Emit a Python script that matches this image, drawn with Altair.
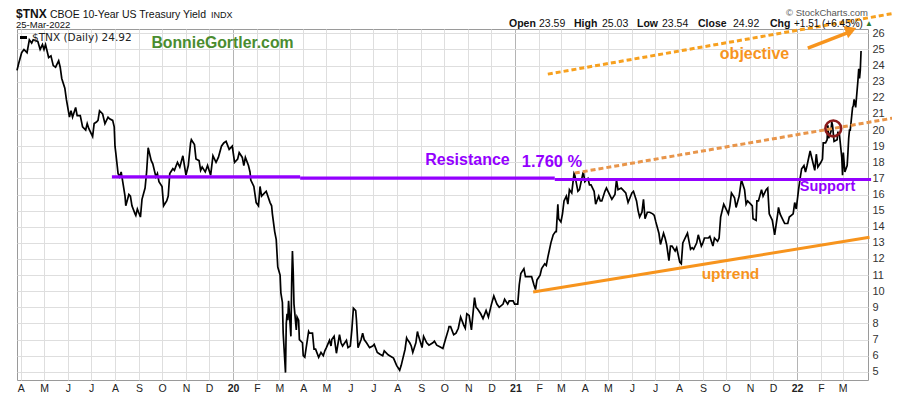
import altair as alt
import pandas as pd

# ---------------- data ----------------
dates_2019 = ["2019-03-27","2019-03-29","2019-04-02","2019-04-05","2019-04-09","2019-04-12","2019-04-15","2019-04-17",
              "2019-04-23","2019-04-26","2019-04-29","2019-05-01","2019-05-03","2019-05-07","2019-05-10","2019-05-13",
              "2019-05-16","2019-05-20","2019-05-22","2019-05-24","2019-05-28","2019-05-30","2019-06-03","2019-06-05",
              "2019-06-07","2019-06-11","2019-06-13","2019-06-17","2019-06-20","2019-06-24","2019-06-26","2019-06-28",
              "2019-07-02","2019-07-03","2019-07-05","2019-07-08","2019-07-10","2019-07-12","2019-07-16","2019-07-19",
              "2019-07-23","2019-07-25","2019-07-29","2019-07-31","2019-08-01","2019-08-02","2019-08-05","2019-08-07",
              "2019-08-09","2019-08-12","2019-08-14","2019-08-15","2019-08-19","2019-08-21","2019-08-23","2019-08-27",
              "2019-08-28","2019-08-30","2019-09-03","2019-09-05","2019-09-09","2019-09-11","2019-09-13","2019-09-17",
              "2019-09-19","2019-09-23","2019-09-25","2019-09-27","2019-10-01","2019-10-03","2019-10-07","2019-10-09",
              "2019-10-11","2019-10-15","2019-10-17","2019-10-21","2019-10-24","2019-10-28","2019-10-30","2019-11-01",
              "2019-11-04","2019-11-07","2019-11-08","2019-11-12","2019-11-14","2019-11-18","2019-11-20","2019-11-22",
              "2019-11-26","2019-11-29","2019-12-03","2019-12-06","2019-12-10","2019-12-13","2019-12-17","2019-12-20",
              "2019-12-23","2019-12-27","2019-12-31"]
values_2019 = [23.7,24.1,24.8,25.0,24.8,25.6,25.4,25.6,
               25.5,25.0,25.3,25.0,25.3,24.5,24.6,24.0,
               23.9,24.3,23.9,23.2,22.6,21.9,20.8,21.2,
               20.8,21.4,20.9,20.9,20.2,20.0,20.4,20.1,
               19.7,19.6,20.4,20.5,20.6,21.2,21.0,20.4,
               20.8,20.7,20.6,20.2,19.0,18.6,17.3,17.1,
               17.4,16.5,15.9,15.3,16.0,15.9,15.3,14.8,
               14.7,15.1,14.6,15.7,16.4,17.4,18.9,18.1,
               17.9,17.1,17.3,16.8,16.5,15.3,15.6,15.9,
               17.3,17.6,17.5,18.0,17.7,18.4,17.8,17.2,
               17.8,19.2,19.4,19.1,18.2,18.1,17.5,17.7,
               17.4,17.8,17.2,18.4,18.0,18.3,19.0,19.2,
               19.3,18.8,19.0]

dates_2020 = ["2020-01-03","2020-01-07","2020-01-09","2020-01-13","2020-01-15","2020-01-17","2020-01-21","2020-01-23",
              "2020-01-24","2020-01-28","2020-01-31","2020-02-03","2020-02-05","2020-02-07","2020-02-11","2020-02-13",
              "2020-02-18","2020-02-20","2020-02-21","2020-02-24","2020-02-26","2020-02-28","2020-03-02","2020-03-03",
              "2020-03-05","2020-03-06","2020-03-09","2020-03-10","2020-03-11","2020-03-12","2020-03-13","2020-03-16",
              "2020-03-17","2020-03-18","2020-03-19","2020-03-20","2020-03-23","2020-03-24","2020-03-26","2020-03-27",
              "2020-03-31","2020-04-01","2020-04-03","2020-04-07","2020-04-08","2020-04-09","2020-04-13","2020-04-15",
              "2020-04-17","2020-04-21","2020-04-24","2020-04-27","2020-04-29","2020-05-01","2020-05-05","2020-05-07",
              "2020-05-08","2020-05-11","2020-05-14","2020-05-18","2020-05-20","2020-05-22","2020-05-27","2020-05-29",
              "2020-06-01","2020-06-03","2020-06-05","2020-06-08","2020-06-09","2020-06-11","2020-06-15","2020-06-17",
              "2020-06-19","2020-06-22","2020-06-26","2020-06-30","2020-07-02","2020-07-06","2020-07-09","2020-07-13",
              "2020-07-15","2020-07-20","2020-07-22","2020-07-27","2020-07-31","2020-08-04","2020-08-06","2020-08-07",
              "2020-08-11","2020-08-13","2020-08-14","2020-08-17","2020-08-19","2020-08-21","2020-08-25","2020-08-27",
              "2020-08-28","2020-09-02","2020-09-04","2020-09-08","2020-09-11","2020-09-16","2020-09-18","2020-09-21",
              "2020-09-25","2020-09-29","2020-10-02","2020-10-06","2020-10-07","2020-10-09","2020-10-13","2020-10-16",
              "2020-10-19","2020-10-22","2020-10-26","2020-10-28","2020-10-30","2020-11-02","2020-11-05","2020-11-09",
              "2020-11-11","2020-11-13","2020-11-17","2020-11-20","2020-11-24","2020-11-27","2020-12-01","2020-12-04",
              "2020-12-08","2020-12-11","2020-12-16","2020-12-18","2020-12-22","2020-12-24","2020-12-29","2020-12-31"]
values_2020 = [18.0,18.2,18.6,18.3,17.8,18.3,17.8,17.4,
               16.9,16.5,15.5,15.3,16.5,15.9,16.1,16.2,
               15.5,15.3,14.8,13.7,13.2,11.5,11.0,9.9,
               9.3,7.4,4.95,8.0,8.6,8.2,9.4,7.2,
               10.5,12.5,11.2,9.2,7.6,8.4,8.2,7.0,
               6.8,6.0,5.9,7.2,7.5,7.4,7.4,6.4,
               6.4,5.9,6.2,6.0,6.3,6.5,6.95,6.6,
               7.0,7.2,6.15,7.3,6.8,6.6,6.95,6.5,
               6.6,7.6,8.95,8.8,8.2,6.5,7.0,7.4,
               7.0,6.8,6.5,6.6,6.7,6.2,6.1,6.0,
               6.3,6.05,6.0,5.85,5.4,5.1,5.4,5.6,
               6.4,7.1,7.0,6.8,6.6,6.2,6.8,7.5,
               7.3,6.5,7.2,6.8,6.65,6.8,6.9,6.65,
               6.55,6.45,6.95,7.6,7.8,7.8,7.3,7.4,
               7.7,8.4,7.9,7.7,8.6,8.5,7.6,9.6,
               9.0,8.9,8.6,8.3,8.8,8.4,9.2,9.7,
               9.2,9.0,9.2,9.5,9.2,9.4,9.4,9.2]

dates_2021 = ["2021-01-04","2021-01-06","2021-01-08","2021-01-12","2021-01-14","2021-01-19","2021-01-22","2021-01-25",
              "2021-01-27","2021-01-29","2021-02-02","2021-02-04","2021-02-08","2021-02-10","2021-02-12","2021-02-16",
              "2021-02-19","2021-02-22","2021-02-23","2021-02-25","2021-02-26","2021-03-01","2021-03-03","2021-03-05",
              "2021-03-08","2021-03-10","2021-03-12","2021-03-15","2021-03-18","2021-03-19","2021-03-23","2021-03-25",
              "2021-03-29","2021-03-30","2021-04-01","2021-04-05","2021-04-07","2021-04-09","2021-04-13","2021-04-15",
              "2021-04-19","2021-04-21","2021-04-23","2021-04-27","2021-04-29","2021-05-04","2021-05-06","2021-05-10",
              "2021-05-12","2021-05-14","2021-05-18","2021-05-20","2021-05-24","2021-05-27","2021-06-01","2021-06-03",
              "2021-06-07","2021-06-09","2021-06-11","2021-06-14","2021-06-16","2021-06-18","2021-06-21","2021-06-24",
              "2021-06-28","2021-06-30","2021-07-02","2021-07-06","2021-07-08","2021-07-12","2021-07-14","2021-07-16",
              "2021-07-19","2021-07-21","2021-07-23","2021-07-27","2021-07-29","2021-08-02","2021-08-04","2021-08-06",
              "2021-08-10","2021-08-12","2021-08-16","2021-08-18","2021-08-20","2021-08-24","2021-08-26","2021-08-30",
              "2021-09-01","2021-09-03","2021-09-08","2021-09-10","2021-09-14","2021-09-16","2021-09-20","2021-09-22",
              "2021-09-24","2021-09-28","2021-09-30","2021-10-04","2021-10-06","2021-10-08","2021-10-12","2021-10-14",
              "2021-10-18","2021-10-20","2021-10-21","2021-10-25","2021-10-27","2021-10-29","2021-11-02","2021-11-04",
              "2021-11-05","2021-11-09","2021-11-10","2021-11-12","2021-11-16","2021-11-18","2021-11-22","2021-11-24",
              "2021-11-26","2021-11-30","2021-12-01","2021-12-03","2021-12-07","2021-12-08","2021-12-10","2021-12-14",
              "2021-12-16","2021-12-20","2021-12-22","2021-12-27","2021-12-29","2021-12-31"]
values_2021 = [9.2,10.4,11.1,11.4,10.9,10.9,10.9,10.4,
               10.1,10.7,11.0,11.4,11.7,11.6,12.1,13.0,
               13.5,13.7,13.7,15.4,14.5,14.3,14.8,15.6,
               15.9,15.4,16.3,16.1,17.3,17.2,16.2,16.3,
               17.2,17.4,16.8,17.0,16.6,16.6,16.2,15.4,
               15.9,15.6,15.6,16.2,16.4,15.9,15.7,16.0,
               16.9,16.3,16.4,16.3,16.1,15.5,16.1,16.2,
               15.6,15.0,14.6,14.9,15.7,14.5,14.9,14.9,
               14.8,14.7,14.3,13.6,12.9,13.6,13.3,12.9,
               11.9,12.8,12.8,12.5,12.7,11.8,11.7,13.0,
               13.4,13.6,12.6,12.7,12.6,13.0,13.5,12.8,
               13.0,13.3,13.3,13.4,12.8,13.3,13.1,13.3,
               14.6,15.4,15.2,14.8,15.3,16.1,15.8,15.2,
               15.9,16.6,16.9,16.3,15.4,15.6,15.4,15.3,
               14.5,14.4,15.6,15.6,16.3,15.9,16.3,16.4,
               14.8,14.4,14.1,13.5,14.8,15.2,14.8,14.4,
               14.2,14.2,14.6,14.8,15.5,15.1]

dates_2022 = ["2022-01-03","2022-01-05","2022-01-07","2022-01-10","2022-01-12","2022-01-14","2022-01-18","2022-01-20",
              "2022-01-24","2022-01-26","2022-01-28","2022-02-01","2022-02-03","2022-02-04","2022-02-07","2022-02-09",
              "2022-02-10","2022-02-11","2022-02-14","2022-02-15","2022-02-16","2022-02-18","2022-02-22","2022-02-23",
              "2022-02-24","2022-02-25","2022-02-28","2022-03-01","2022-03-02","2022-03-04","2022-03-07","2022-03-08",
              "2022-03-09","2022-03-10","2022-03-11","2022-03-14","2022-03-15","2022-03-16","2022-03-17","2022-03-18",
              "2022-03-21","2022-03-22","2022-03-23","2022-03-24","2022-03-25"]
values_2022 = [16.3,17.0,17.6,17.8,17.4,17.8,18.7,18.3,
               17.5,18.5,17.7,18.0,18.2,19.2,19.2,19.4,
               20.3,19.5,19.9,20.5,20.3,19.3,19.4,19.9,
               19.7,19.7,18.3,17.2,18.6,17.4,17.8,18.6,
               19.5,20.0,20.0,21.4,21.5,21.9,21.7,21.4,
               23.1,23.8,23.2,23.7,24.9]

# annotation lines (endpoints in data units)
resist_a_dates, resist_a_vals = ["2019-07-28", "2020-03-28"], [17.09, 17.09]
resist_b_dates, resist_b_vals = ["2020-03-28", "2021-02-21"], [17.02, 17.02]
resist_c_dates, resist_c_vals = ["2021-02-21", "2022-04-07"], [16.93, 16.93]
uptrend_dates, uptrend_vals = ["2021-01-24", "2022-04-05"], [9.95, 13.35]
channel_dates, channel_vals = ["2021-03-19", "2022-05-21"], [17.33, 20.87]
objective_dates, objective_vals = ["2021-02-12", "2022-05-11"], [23.47, 27.28]
arrow_dates, arrow_vals = ["2022-01-15", "2022-03-08"], [25.09, 26.05]
arrowhead_dates, arrowhead_vals = ["2022-03-12"], [26.2]
circle_dates, circle_vals = ["2022-02-17"], [20.1]

y_ticks = list(range(5, 27))
month_ticks = [(y, m) for y in (2019, 2020, 2021, 2022) for m in range(1, 13)
               if (2019, 4) <= (y, m) <= (2022, 3)]

# ---------------- chart ----------------
W, H = 851, 351
FONT = "Liberation Sans"
ORANGE = "#f7941d"
PURPLE = "#9400ff"

xscale = alt.Scale(type="utc", nice=False,
                   domain=[alt.DateTime(year=2019, month=3, date=27, utc=True),
                           alt.DateTime(year=2022, month=4, date=3, utc=True)])
yscale = alt.Scale(domain=[4.49, 26.27], nice=False, zero=False)

is_year = "utcmonth(datum.value) === 0"
xaxis = alt.Axis(
    values=[alt.DateTime(year=y, month=m, date=1, utc=True) for y, m in month_ticks],
    labelExpr="utcmonth(datum.value) === 0 ? utcFormat(datum.value, '%y') : substring(utcFormat(datum.value, '%b'), 0, 1)",
    labelFontWeight={"condition": {"test": is_year, "value": "bold"}, "value": "normal"},
    gridColor={"condition": {"test": is_year, "value": "#b4b4b4"}, "value": "#dedede"},
    grid=True, ticks=False, domain=False, title=None, labelFont=FONT, labelFontSize=10.5,
    labelColor="#222", labelPadding=3, labelOverlap=False, labelFlush=False,
)
yaxis = alt.Axis(orient="right", values=y_ticks, grid=True, gridColor="#dedede", ticks=False,
                 domain=False, title=None, labelFont=FONT, labelFontSize=11, labelColor="#333",
                 labelPadding=4)


def frame(d, v):
    return pd.DataFrame({"date": d, "value": v})


def xy():
    return dict(
        x=alt.X("date:T", scale=xscale, axis=xaxis),
        y=alt.Y("value:Q", scale=yscale, axis=yaxis),
    )


def seg(d, v, color, width, dash=None):
    kw = dict(color=color, strokeWidth=width, strokeCap="butt")
    if dash:
        kw["strokeDash"] = dash
    return alt.Chart(frame(d, v)).mark_line(**kw).encode(**xy())


def txt(label, x, y, size, color, weight="normal", align="left", baseline="middle", font=FONT):
    return alt.Chart(pd.DataFrame({"t": [label]})).mark_text(
        align=align, baseline=baseline, fontSize=size, fontWeight=weight, color=color, font=font
    ).encode(x=alt.value(x), y=alt.value(y), text="t:N")


main_df = frame(dates_2019 + dates_2020 + dates_2021 + dates_2022,
                values_2019 + values_2020 + values_2021 + values_2022)
main = alt.Chart(main_df).mark_line(color="#000000", strokeWidth=1.7).encode(**xy())

layers = [
    main,
    seg(resist_a_dates, resist_a_vals, PURPLE, 3.2),
    seg(resist_b_dates, resist_b_vals, PURPLE, 3.2),
    seg(resist_c_dates, resist_c_vals, PURPLE, 3.2),
    seg(uptrend_dates, uptrend_vals, ORANGE, 3),
    seg(channel_dates, channel_vals, "#e8954a", 3, [5, 3]),
    seg(objective_dates, objective_vals, "#f7a01e", 3, [5, 3]),
    seg(arrow_dates, arrow_vals, ORANGE, 3.5),
    alt.Chart(frame(arrowhead_dates, arrowhead_vals)).mark_point(
        shape="triangle-right", filled=True, size=170, angle=339, color=ORANGE, opacity=1
    ).encode(**xy()),
    alt.Chart(frame(circle_dates, circle_vals)).mark_point(
        shape="circle", filled=False, size=250, strokeWidth=2.6, color="#8b1a1a", opacity=1
    ).encode(**xy()),
    # annotations
    txt("Resistance", 450.5, 131, 16, PURPLE, "bold", "center"),
    txt("1.760 %", 535, 133, 16.5, PURPLE, "bold", "center"),
    txt("Support", 810.5, 158, 14.5, PURPLE, "bold", "center"),
    txt("uptrend", 713.5, 245, 15.5, ORANGE, "bold", "center"),
    txt("objective", 737.5, 25, 16, ORANGE, "bold", "center"),
    txt("BonnieGortler.com", 205.5, 14, 15.8, "#4a8c2f", "bold", "center"),
    # in-plot legend
    alt.Chart(pd.DataFrame({"k": [0]})).mark_rule(color="#000000", strokeWidth=3).encode(
        x=alt.value(3), x2=alt.value(10), y=alt.value(8.5)),
    txt("$TNX (Daily) 24.92", 15, 8.5, 10.5, "#222", font="DejaVu Sans"),
    # header (kept inside the page's drawable area)
    txt("$TNX", -1, -11.5, 12, "#111", "bold", baseline="alphabetic"),
    txt("CBOE 10-Year US Treasury Yield", 33, -11.5, 10.5, "#111", baseline="alphabetic"),
    txt("INDX", 194, -11.5, 9, "#111", baseline="alphabetic"),
    txt("25-Mar-2022", -1, -0.6, 9.5, "#111", baseline="alphabetic"),
    txt("\u00a9 StockCharts.com", 851, -13, 9.5, "#555", align="right", baseline="alphabetic"),
]

ohlc_pieces = [("Open", 492, "bold", 10.5), ("23.59", 522, "normal", 10.5), ("High", 557, "bold", 10.5),
               ("25.03", 585, "normal", 10.5), ("Low", 620, "bold", 10.5), ("23.54", 645, "normal", 10.5),
               ("Close", 681, "bold", 10.5), ("24.92", 716, "normal", 10.5), ("Chg", 753, "bold", 10.5),
               ("+1.51 (+6.45%)", 777, "normal", 10)]
for label, px, wt, fs in ohlc_pieces:
    layers.append(txt(label, px, -1.8, fs, "#111", wt, baseline="alphabetic"))
layers.append(txt("\u25b2", 852, -5.5, 8, "#2d7a2d", align="center"))

chart = alt.layer(*layers).properties(
    width=W, height=H,
    padding={"left": 9, "top": 21, "right": 24, "bottom": 16},
    autosize=alt.AutoSizeParams(type="none"),
).configure_view(stroke="#9a9a9a", strokeWidth=1)

chart.save("out.html", embed_options={"renderer": "svg", "actions": False})
